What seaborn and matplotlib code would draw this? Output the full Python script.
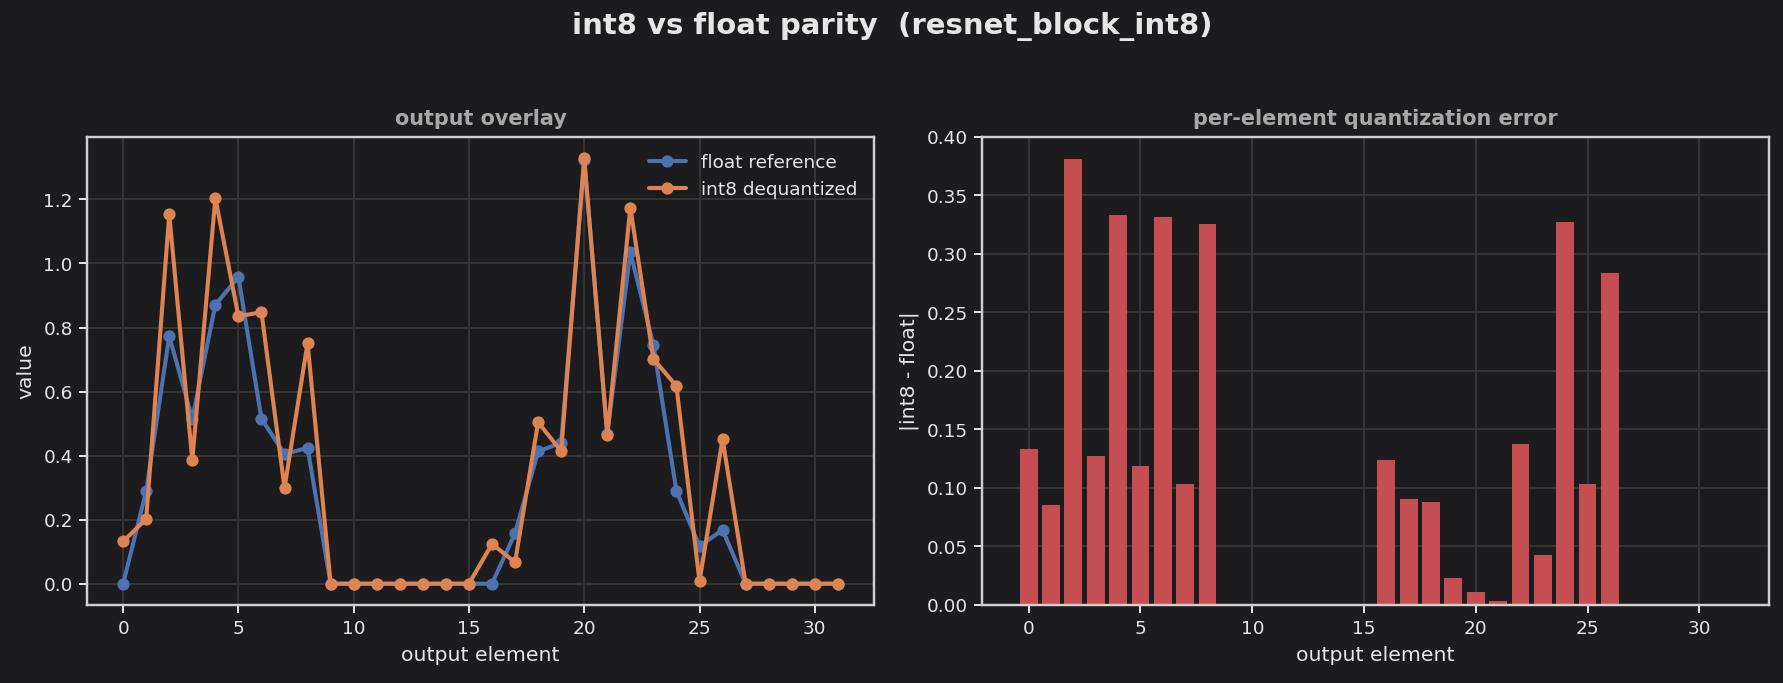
import numpy as np
import pandas as pd
import seaborn as sns
import matplotlib.pyplot as plt

# values
element = list(range(32))
float_ref = [0.0, 0.289, 0.773, 0.515, 0.871, 0.958, 0.515, 0.405, 0.424,
             0, 0, 0, 0, 0, 0, 0, 0.0, 0.158, 0.413, 0.440, 1.322, 0.468,
             1.035, 0.746, 0.289, 0.117, 0.168, 0, 0, 0, 0, 0]
int8_deq = [0.132, 0.202, 1.154, 0.386, 1.204, 0.835, 0.848, 0.299, 0.752,
            0, 0, 0, 0, 0, 0, 0, 0.124, 0.067, 0.504, 0.414, 1.329, 0.463,
            1.174, 0.702, 0.617, 0.007, 0.452, 0, 0, 0, 0, 0]
abs_err = [0.1336, 0.0856, 0.3811, 0.1276, 0.3331, 0.1190, 0.3314, 0.1036, 0.3254,
           0, 0, 0, 0, 0, 0, 0, 0.1242, 0.0908, 0.0882, 0.0231, 0.0111, 0.0034,
           0.1379, 0.0428, 0.3272, 0.1036, 0.2835, 0, 0, 0, 0, 0]

BG = '#1c1c1e'
FG = '#e6e6e6'
GRID = '#353535'

sns.set_theme(style='dark')
plt.rcParams.update({
    'figure.facecolor': BG, 'axes.facecolor': BG, 'savefig.facecolor': BG,
    'axes.edgecolor': '#d0d0d0', 'axes.labelcolor': FG, 'text.color': FG,
    'xtick.color': FG, 'ytick.color': FG, 'axes.grid': True,
    'grid.color': GRID, 'grid.linewidth': 1.0,
    'xtick.bottom': True, 'ytick.left': True,
    'font.family': ['DejaVu Sans'],
})

df = pd.DataFrame({
    'output element': element * 2,
    'value': float_ref + int8_deq,
    'series': ['float reference'] * 32 + ['int8 dequantized'] * 32,
})
err = pd.DataFrame({'output element': element, 'err': abs_err})

fig, (ax1, ax2) = plt.subplots(1, 2, figsize=(12.74, 4.88), dpi=140)
fig.subplots_adjust(left=0.049, right=0.9916, top=0.7994, bottom=0.1142, wspace=0.1385)

# OVERLAY
sns.lineplot(data=df, x='output element', y='value', hue='series',
             palette=['#4c72b0', '#dd8452'], marker='o', markersize=6.3,
             markeredgewidth=0, linewidth=2.1, ax=ax1)
ax1.set_title('output overlay', color='#a8a8a8', fontweight='bold', fontsize=10.7)
ax1.set_xlabel('output element', fontsize=10.5)
ax1.set_ylabel('value', fontsize=10.5)
ax1.set_xticks([0, 5, 10, 15, 20, 25, 30])
leg = ax1.legend(frameon=False, loc='upper right', fontsize=9.5)
for t in leg.get_texts():
    t.set_color(FG)

# ERROR BARS
sns.barplot(data=err, x='output element', y='err', native_scale=True,
            color='#c44e52', saturation=1, width=0.8, linewidth=0, ax=ax2)
ax2.set_title('per-element quantization error', color='#a8a8a8', fontweight='bold', fontsize=10.7)
ax2.set_xlabel('output element', fontsize=10.5)
ax2.set_ylabel('|int8 - float|', fontsize=10.5)
ax2.set_xticks([0, 5, 10, 15, 20, 25, 30])
ax2.set_xlim(-2.07, 33.1)
ax2.set_ylim(0, 0.40)
ax2.set_yticks(np.arange(0, 0.401, 0.05))

for ax in (ax1, ax2):
    ax.tick_params(labelsize=9.5, length=4, width=1)
    ax.set_axisbelow(True)
    for s in ax.spines.values():
        s.set_color('#d0d0d0')

fig.suptitle('int8 vs float parity  (resnet_block_int8)', fontsize=15, fontweight='bold', y=0.982)
fig.savefig('out.png', dpi=140)
